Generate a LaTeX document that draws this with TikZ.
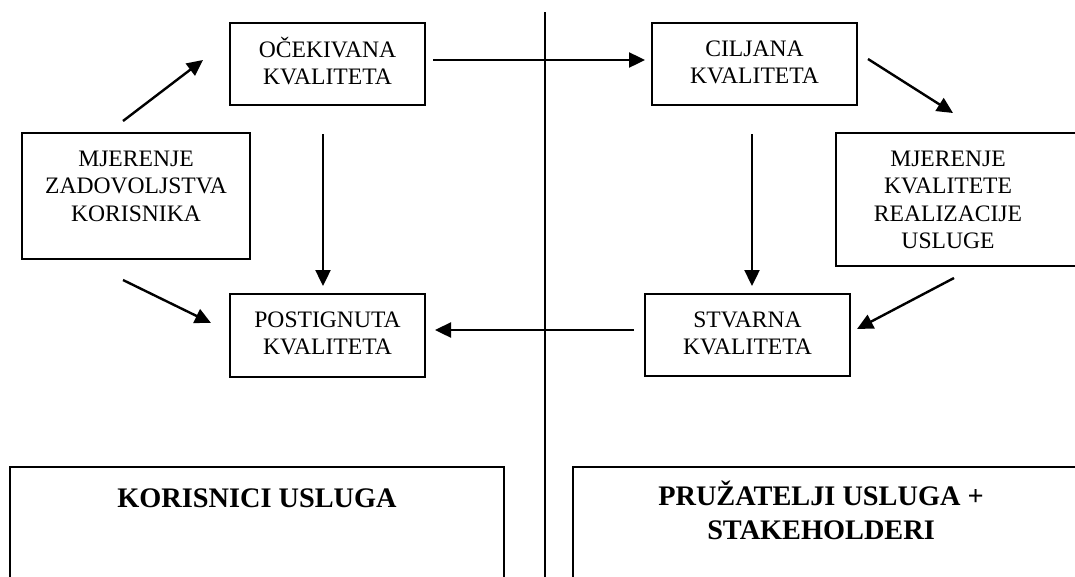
\documentclass[tikz,border=0pt]{standalone}
\usepackage{fontspec}
\setmainfont{Liberation Serif}
\usetikzlibrary{arrows.meta}
\begin{document}
\begin{tikzpicture}[x=1pt,y=-1pt,
  boxnode/.style={draw, line width=1.8pt, inner sep=0pt, rectangle},
  txt/.style={font=\fontsize{23.6}{27.5}\selectfont, align=center, inner sep=0pt, anchor=north},
  bigtxt/.style={font=\fontsize{28.3}{34}\selectfont\bfseries, align=center, inner sep=0pt, anchor=north},
  conn/.style={line width=2.4pt, -{Triangle[length=16pt,width=15pt]}},
  divider/.style={line width=2.2pt}]
\useasboundingbox (0,0) rectangle (1075,576);
\clip (0,0) rectangle (1075,576);
\fill[white] (0,0) rectangle (1075,576);

% boxes
\node[boxnode, minimum width=195pt, minimum height=82pt] (ocek) at (327.5,64) {};
\node[boxnode, minimum width=205pt, minimum height=82pt] (cilj) at (754.5,64) {};
\node[boxnode, minimum width=228pt, minimum height=126pt] (mjz) at (136,196) {};
\node[boxnode, minimum width=254pt, minimum height=133pt] (mjk) at (963,199.5) {};
\node[boxnode, minimum width=195pt, minimum height=83pt] (post) at (327.5,335.5) {};
\node[boxnode, minimum width=205pt, minimum height=82pt] (stv) at (747.5,335) {};
\node[boxnode, minimum width=494pt, minimum height=153pt] (kor) at (257,543.5) {};
\node[boxnode, minimum width=517pt, minimum height=153pt] (pruz) at (831.5,543.5) {};

% texts
\node[txt] (tocek) at (327.5,36.75) {\strut OČEKIVANA\\KVALITETA};
\node[txt] (tcilj) at (754.5,36.75) {\strut CILJANA\\KVALITETA};
\node[txt] (tmjz) at (136,146.75) {\strut MJERENJE\\ZADOVOLJSTVA\\KORISNIKA};
\node[txt] (tmjk) at (948,146.75) {\strut MJERENJE\\KVALITETE\\REALIZACIJE\\USLUGE};
\node[txt] (tpost) at (327.5,307.75) {\strut POSTIGNUTA\\KVALITETA};
\node[txt] (tstv) at (747.5,307.75) {\strut STVARNA\\KVALITETA};
\node[bigtxt] (tkor) at (257,483) {\strut KORISNICI USLUGA};
\node[bigtxt] (tpruz) at (821,481.2) {\strut PRUŽATELJI USLUGA +\\STAKEHOLDERI};

% connector ends
\coordinate (a1s) at (123,121);  \coordinate (a1e) at (203,60);
\coordinate (a2s) at (323,134);  \coordinate (a2e) at (323,286);
\coordinate (a3s) at (433,60);   \coordinate (a3e) at (645,60);
\coordinate (a4s) at (868,59);   \coordinate (a4e) at (953,113);
\coordinate (a5s) at (752,134);  \coordinate (a5e) at (752,286);
\coordinate (a6s) at (954,278);  \coordinate (a6e) at (857,329);
\coordinate (a7s) at (634,330);  \coordinate (a7e) at (435,330);
\coordinate (a8s) at (123,280);  \coordinate (a8e) at (211,323);
\coordinate (dtop) at (545,12);  \coordinate (dbot) at (545,590);

\draw[divider] (dtop) -- (dbot);
\draw[conn] (a1s) -- (a1e);
\draw[conn] (a2s) -- (a2e);
\draw[conn] (a3s) -- (a3e);
\draw[conn] (a4s) -- (a4e);
\draw[conn] (a5s) -- (a5e);
\draw[conn] (a6s) -- (a6e);
\draw[conn] (a7s) -- (a7e);
\draw[conn] (a8s) -- (a8e);
\end{tikzpicture}
\end{document}
